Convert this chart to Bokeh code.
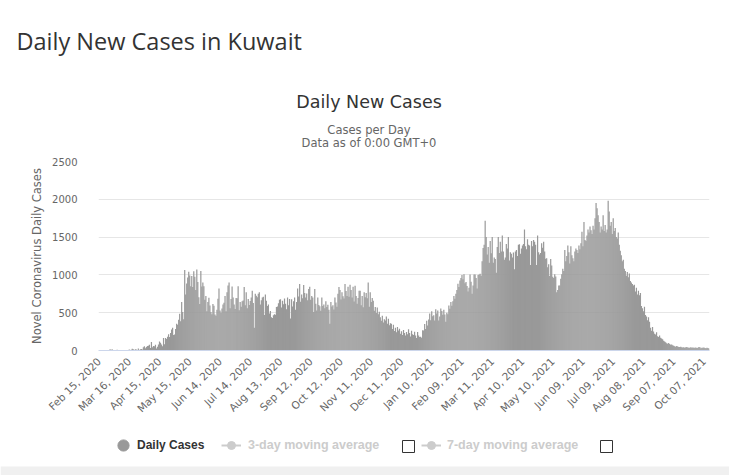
import numpy as np
import pandas as pd
from bokeh.plotting import figure
from bokeh.layouts import column
from bokeh.models import (Range1d, FixedTicker, Label, Legend, LegendItem,
                          ColumnDataSource, BoxAnnotation)
from bokeh.embed import file_html
from bokeh.resources import INLINE
from math import pi

# ---------------- data ----------------
start_date = "2020-02-15"
daily_cases = [
    0, 0, 0, 0, 0, 0, 0, 0, 0, 5,
    6, 15, 0, 16, 3, 0, 1, 0, 10, 0,
    2, 0, 0, 0, 4, 0, 0, 0, 7, 3,
    12, 8, 9, 24, 18, 7, 18, 13, 5, 27,
    4, 17, 20, 12, 42, 55, 31, 46, 58, 62,
    77, 34, 112, 43, 59, 55, 75, 26, 51, 80,
    119, 102, 79, 55, 164, 82, 165, 152, 183, 215,
    180, 230, 278, 300, 205, 213, 284, 353, 341, 407,
    485, 387, 641, 510, 415, 1065, 741, 885, 965, 1041,
    992, 850, 987, 840, 1048, 976, 800, 1073, 905, 703,
    615, 1052, 845, 900, 850, 670, 721, 520, 640, 698,
    595, 510, 480, 615, 593, 477, 460, 540, 683, 820,
    530, 498, 556, 610, 632, 720, 520, 770, 860, 901,
    560, 680, 845, 700, 610, 550, 695, 690, 850, 532,
    640, 580, 650, 660, 840, 600, 772, 560, 680, 601,
    655, 700, 790, 628, 300, 751, 724, 703, 750, 770,
    610, 665, 700, 712, 470, 740, 658, 590, 608, 491,
    524, 440, 431, 465, 480, 473, 576, 583, 626, 671,
    679, 570, 658, 613, 688, 620, 544, 700, 600, 681,
    422, 677, 583, 650, 700, 540, 640, 820, 713, 880,
    645, 740, 692, 867, 759, 700, 755, 664, 813, 843,
    670, 720, 700, 508, 815, 617, 528, 700, 603, 586,
    525, 700, 589, 610, 560, 650, 576, 605, 540, 353,
    640, 581, 598, 541, 700, 635, 580, 752, 840, 800,
    676, 770, 717, 689, 880, 786, 721, 843, 710, 869,
    801, 702, 844, 647, 855, 720, 620, 693, 789, 790,
    600, 720, 572, 770, 703, 761, 690, 900, 580, 771,
    640, 694, 657, 527, 575, 495, 568, 480, 513, 441,
    395, 460, 371, 412, 398, 450, 355, 420, 334, 362,
    353, 285, 340, 258, 300, 240, 310, 265, 287, 221,
    253, 206, 270, 233, 198, 246, 215, 281, 232, 186,
    261, 215, 206, 249, 198, 166, 244, 200, 180, 181,
    167, 268, 263, 350, 286, 394, 330, 410, 491, 400,
    520, 454, 465, 398, 545, 490, 528, 396, 450, 554,
    522, 474, 540, 475, 380, 500, 480, 595, 552, 640,
    592, 650, 720, 686, 750, 801, 882, 840, 925, 960,
    1000, 943, 1010, 890, 905, 852, 780, 830, 1004, 908,
    750, 860, 1005, 1004, 960, 820, 1000, 1005, 1015, 990,
    1180, 1355, 1400, 1716, 1500, 1270, 1370, 1160, 1450, 1285,
    1500, 1160, 1230, 1210, 1030, 1370, 1500, 1290, 1440, 1310,
    1520, 1310, 1200, 1230, 1410, 1350, 1500, 1190, 1300, 1280,
    1230, 1295, 1075, 1310, 1330, 1250, 1400, 1405, 1280, 1350,
    1390, 1410, 1600, 1380, 1340, 1470, 1400, 1390, 1130, 1450,
    1380, 1460, 1440, 1400, 1130, 1520, 1300, 1270, 1290, 1420,
    1360, 1437, 1310, 1215, 1220, 1100, 1140, 985, 1210, 1125,
    975, 960, 1010, 980, 770, 800, 860, 860, 950, 1010,
    1080, 1050, 1330, 1180, 1250, 1390, 1300, 1150, 1380, 1260,
    1220, 1180, 1310, 1350, 1330, 1290, 1390, 1340, 1420, 1570,
    1380, 1700, 1460, 1450, 1520, 1600, 1560, 1640, 1590, 1540,
    1650, 1600, 1750, 1950, 1880, 1790, 1700, 1560, 1640, 1600,
    1790, 1580, 1660, 1560, 1600, 1980, 1840, 1650, 1700, 1540,
    1750, 1580, 1620, 1500, 1480, 1560, 1400, 1320, 1260, 1180,
    1200, 1080, 1050, 990, 1040, 970, 1020, 920, 900, 880,
    860, 870, 780, 830, 740, 790, 730, 760, 590, 560,
    520, 580, 470, 450, 400, 440, 380, 300, 260, 310,
    250, 220, 210, 240, 190, 180, 200, 170, 160, 150,
    130, 120, 110, 95, 90, 100, 85, 75, 80, 70,
    62, 55, 48, 60, 52, 47, 45, 50, 44, 40,
    42, 38, 44, 46, 40, 35, 38, 42, 36, 40,
    38, 35, 40, 33, 36, 45, 42, 30, 35, 38,
    40, 34, 30, 38, 32, 28,
]
tick_labels = ["Feb 15, 2020", "Mar 16, 2020", "Apr 15, 2020", "May 15, 2020",
               "Jun 14, 2020", "Jul 14, 2020", "Aug 13, 2020", "Sep 12, 2020",
               "Oct 12, 2020", "Nov 11, 2020", "Dec 11, 2020", "Jan 10, 2021",
               "Feb 09, 2021", "Mar 11, 2021", "Apr 10, 2021", "May 10, 2021",
               "Jun 09, 2021", "Jul 09, 2021", "Aug 08, 2021", "Sep 07, 2021",
               "Oct 07, 2021"]
tick_step = 30
y_ticks = [0, 500, 1000, 1500, 2000, 2500]
series_names = ["Daily Cases", "3-day moving average", "7-day moving average"]

page_title = "Daily New Cases in Kuwait"
chart_title = "Daily New Cases"
subtitle_lines = ["Cases per Day", "Data as of 0:00 GMT+0"]
y_axis_title = "Novel Coronavirus Daily Cases"

W = 729
TOP_H, MAIN_H, LEG_H = 151, 279, 45


def blank_fig(height):
    f = figure(width=W, height=height, output_backend="svg",
               toolbar_location=None, title=None,
               x_range=Range1d(0, W), y_range=Range1d(height, 0),
               x_axis_type=None, y_axis_type=None,
               min_border=0, min_border_left=0, min_border_right=0,
               min_border_top=0, min_border_bottom=0, frame_align=False)
    f.outline_line_color = None
    f.grid.grid_line_color = None
    f.background_fill_color = "white"
    f.border_fill_color = "white"
    return f


# ---------------- header (titles) ----------------
top = blank_fig(TOP_H)
top.add_layout(Label(x=16, y=40, text=page_title, text_font="Open Sans",
                     text_font_size="23.5px", text_color="#333333",
                     text_baseline="alphabetic", text_align="left"))
top.add_layout(Label(x=368.5, y=101, text=chart_title, text_font="DejaVu Sans",
                     text_font_size="17.5px", text_color="#333333",
                     text_baseline="alphabetic", text_align="center"))
for line, py in zip(subtitle_lines, [129, 142]):
    top.add_layout(Label(x=368.5, y=py, text=line, text_font="DejaVu Sans",
                         text_font_size="11.5px", text_color="#666666",
                         text_baseline="alphabetic", text_align="center"))

# ---------------- main chart ----------------
n = len(daily_cases)
dates = pd.date_range(start_date, periods=n)
src = ColumnDataSource(dict(x=np.arange(n), cases=daily_cases,
                            date=dates.strftime("%b %d, %Y")))

p = figure(width=W, height=MAIN_H, output_backend="svg", toolbar_location=None,
           x_range=Range1d(-0.5, n - 0.5), y_range=Range1d(0, y_ticks[-1]),
           min_border_left=98, min_border_right=20, min_border_top=10,
           min_border_bottom=80, frame_align=False)
p.outline_line_color = None
p.background_fill_color = "white"
p.border_fill_color = "white"

p.vbar(x="x", top="cases", width=1.2, source=src,
       fill_color="#999999", line_color=None)

tick_pos = [i * tick_step for i in range(len(tick_labels))]
p.xaxis.ticker = FixedTicker(ticks=tick_pos)
p.xaxis.major_label_overrides = {t: l for t, l in zip(tick_pos, tick_labels)}
p.xaxis.major_label_orientation = pi / 4
p.xaxis.major_label_text_font = "DejaVu Sans"
p.xaxis.major_label_text_font_size = "10.5px"
p.xaxis.major_label_text_color = "#666666"
p.xaxis.major_tick_line_color = None
p.xaxis.minor_tick_line_color = None
p.xaxis.axis_line_color = "#ccd6eb"
p.xaxis.major_label_standoff = 3

p.yaxis.ticker = FixedTicker(ticks=y_ticks)
p.yaxis.major_label_text_font = "DejaVu Sans"
p.yaxis.major_label_text_font_size = "10px"
p.yaxis.major_label_text_color = "#666666"
p.yaxis.major_tick_line_color = None
p.yaxis.minor_tick_line_color = None
p.yaxis.axis_line_color = None
p.yaxis.major_label_standoff = 15
p.yaxis.axis_label = y_axis_title
p.yaxis.axis_label_text_font = "DejaVu Sans"
p.yaxis.axis_label_text_font_size = "11.5px"
p.yaxis.axis_label_text_font_style = "normal"
p.yaxis.axis_label_text_color = "#666666"
p.yaxis.axis_label_standoff = 5

p.xgrid.grid_line_color = None
p.ygrid.grid_line_color = "#e6e6e6"
p.ygrid.ticker = FixedTicker(ticks=y_ticks)

# ---------------- legend row ----------------
leg = blank_fig(LEG_H)
off = ColumnDataSource(dict(x=[-100, -90], y=[-100, -100]))   # off-screen
r_dc = leg.scatter("x", "y", source=off, marker="circle", size=12,
                   fill_color="#999999", line_color="#999999")
r_l3 = leg.line("x", "y", source=off, line_color="#cccccc", line_width=2)
r_m3 = leg.scatter("x", "y", source=off, marker="circle", size=6,
                   fill_color="#cccccc", line_color="#cccccc")
r_l7 = leg.line("x", "y", source=off, line_color="#cccccc", line_width=2)
r_m7 = leg.scatter("x", "y", source=off, marker="circle", size=6,
                   fill_color="#cccccc", line_color="#cccccc")
r_box = leg.scatter("x", "y", source=off, marker="square", size=12,
                    fill_color="white", line_color="#333333", line_width=1)

LEG_TOP = TOP_H + MAIN_H   # page y of the legend row
leg.add_layout(BoxAnnotation(top=LEG_H - 9, bottom=LEG_H, fill_color="#f0f0f0",
                             fill_alpha=1, line_color=None))


def make_legend(items, gw, gh, left, bottom_page, color, standoff, size="12px"):
    lg = Legend(items=items, location=(left, LEG_TOP + LEG_H - bottom_page),
                orientation="horizontal",
                glyph_width=gw, glyph_height=gh, label_standoff=standoff,
                padding=0, margin=0, spacing=0,
                border_line_color=None, background_fill_alpha=0,
                label_text_font="Liberation Sans", label_text_font_style="bold",
                label_text_font_size=size, label_text_color=color,
                label_height=gh)
    leg.add_layout(lg, "center")
    return lg


make_legend([LegendItem(label=series_names[0], renderers=[r_dc])], 28, 30,
            109, 460, "#333333", 0)
make_legend([LegendItem(label=series_names[1], renderers=[r_l3, r_m3])], 20, 20,
            221, 455, "#cccccc", 7, "12.5px")
make_legend([LegendItem(label=" ", renderers=[r_box])], 30, 30,
            393, 461, "#cccccc", 0)
make_legend([LegendItem(label=series_names[2], renderers=[r_l7, r_m7])], 20, 20,
            421, 455, "#cccccc", 6, "12.5px")
make_legend([LegendItem(label=" ", renderers=[r_box])], 30, 30,
            591, 461, "#cccccc", 0)

layout = column(top, p, leg, spacing=0)
open("out.html", "w").write(file_html(layout, INLINE))
